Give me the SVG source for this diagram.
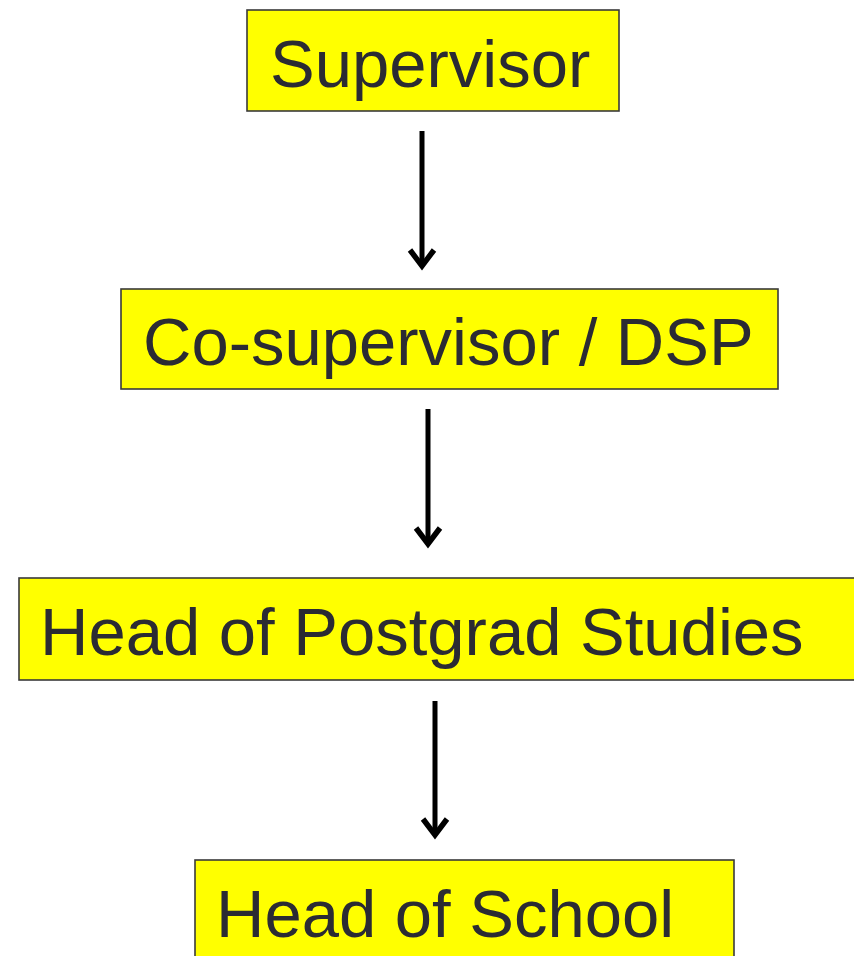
<svg xmlns="http://www.w3.org/2000/svg" width="854" height="956" viewBox="0 0 854 956">
<style>
.box{fill:#ffff00;stroke:#3a3a3a;stroke-width:1.6}
.lbl{font-family:"Liberation Sans",Arial,sans-serif;font-size:67px;fill:#2b2b33}
.con{stroke:#000;stroke-width:5;fill:none}
.head{stroke:#000;stroke-width:5.5;fill:none;stroke-linecap:butt;stroke-linejoin:miter}
</style>
<rect width="854" height="956" fill="#fff"/>
<g id="connectors">
<line class="con" x1="422" y1="131" x2="422" y2="266"/>
<polyline class="head" points="410,250 422,266 434,250"/>
<line class="con" x1="428" y1="409" x2="428" y2="544"/>
<polyline class="head" points="416,528 428,544 440,528"/>
<line class="con" x1="435" y1="701" x2="435" y2="835"/>
<polyline class="head" points="423,819 435,835 447,819"/>
</g>
<g id="supervisor">
<rect class="box" x="247" y="10" width="372" height="101"/>
<text class="lbl" x="270" y="87">Supervisor</text>
</g>
<g id="cosupervisor">
<rect class="box" x="121" y="289" width="657" height="100"/>
<text class="lbl" x="143" y="365">Co-supervisor / DSP</text>
</g>
<g id="headpg">
<rect class="box" x="19" y="578" width="845" height="102"/>
<text class="lbl" x="40" y="655">Head of Postgrad Studies</text>
</g>
<g id="headschool">
<rect class="box" x="195" y="860" width="539" height="110"/>
<text class="lbl" x="216" y="937">Head of School</text>
</g>
</svg>
